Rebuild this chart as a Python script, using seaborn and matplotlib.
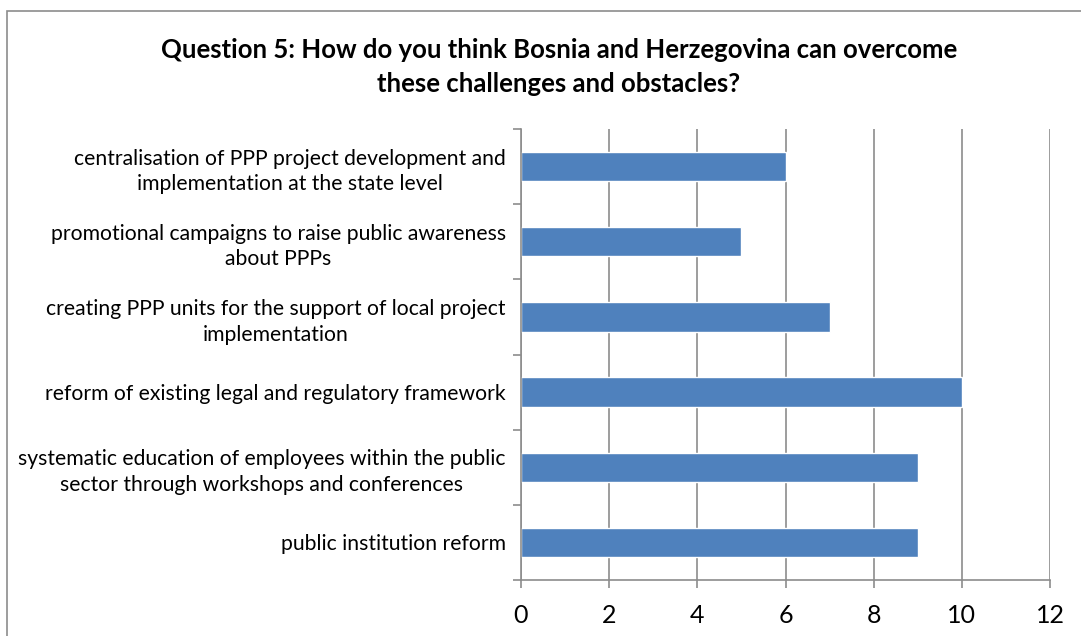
import matplotlib
matplotlib.use("Agg")
import matplotlib.pyplot as plt
from matplotlib.patches import Rectangle
from matplotlib.ticker import FixedLocator
import seaborn as sns
import pandas as pd

categories = [
    "centralisation of PPP project development and\nimplementation at the state level",
    "promotional campaigns to raise public awareness\nabout PPPs",
    "creating PPP units for the support of local project\nimplementation",
    "reform of existing legal and regulatory framework",
    "systematic education of employees within the public\nsector through workshops and conferences",
    "public institution reform",
]
responses = [6, 5, 7, 10, 9, 9]
x_ticks = [0, 2, 4, 6, 8, 10, 12]
title = ("Question 5: How do you think Bosnia and Herzegovina can overcome\n"
         "these challenges and obstacles?")

sns.set_theme(style="white")
plt.rcParams["font.family"] = ["Lato", "DejaVu Sans"]

df = pd.DataFrame({"option": categories, "count": responses})

W, H = 1081, 636
fig = plt.figure(figsize=(W / 100, H / 100), dpi=100)
ax = fig.add_axes([521 / W, 1 - 580 / H, (1050 - 521) / W, (580 - 129) / H])

sns.barplot(data=df, y="option", x="count", orient="h", color="#4F81BD",
            saturation=1, width=0.39, ax=ax)

ax.set_xlim(0, 12)
ax.set_ylim(len(categories) - 0.5, -0.5)
ax.set_xticks(x_ticks)
ax.set_xlabel("")
ax.set_ylabel("")

grid_col = "#8c8c8c"
ax.grid(axis="x", color=grid_col, linewidth=1.2)
ax.set_axisbelow(True)
for s in ["top", "right"]:
    ax.spines[s].set_visible(False)
for s in ["left", "bottom"]:
    ax.spines[s].set_color(grid_col)
    ax.spines[s].set_linewidth(1.2)

# category separators as outward ticks on the value axis
ax.yaxis.set_minor_locator(FixedLocator([i - 0.5 for i in range(len(categories) + 1)]))
ax.tick_params(axis="y", which="major", length=0, pad=11, labelsize=15.2, colors="black")
ax.tick_params(axis="y", which="minor", length=6, width=1.2, color=grid_col, left=True)
ax.tick_params(axis="x", which="major", length=6, width=1.2, color=grid_col, bottom=True,
               labelsize=18, pad=11, colors="black")
for lbl in ax.get_yticklabels():
    lbl.set_horizontalalignment("right")
    lbl.set_multialignment("center")
    lbl.set_linespacing(1.35)

fig.text(0.517, 1 - 67 / H, title, ha="center", va="center", fontsize=18.5,
         fontweight="bold", linespacing=1.5, color="black")

fig.add_artist(Rectangle((7 / W, -0.1), 1.2, 1 - 11 / H + 0.1,
                         transform=fig.transFigure, fill=False,
                         edgecolor="#8c8c8c", linewidth=1.2))

fig.savefig("out.png", dpi=100)
